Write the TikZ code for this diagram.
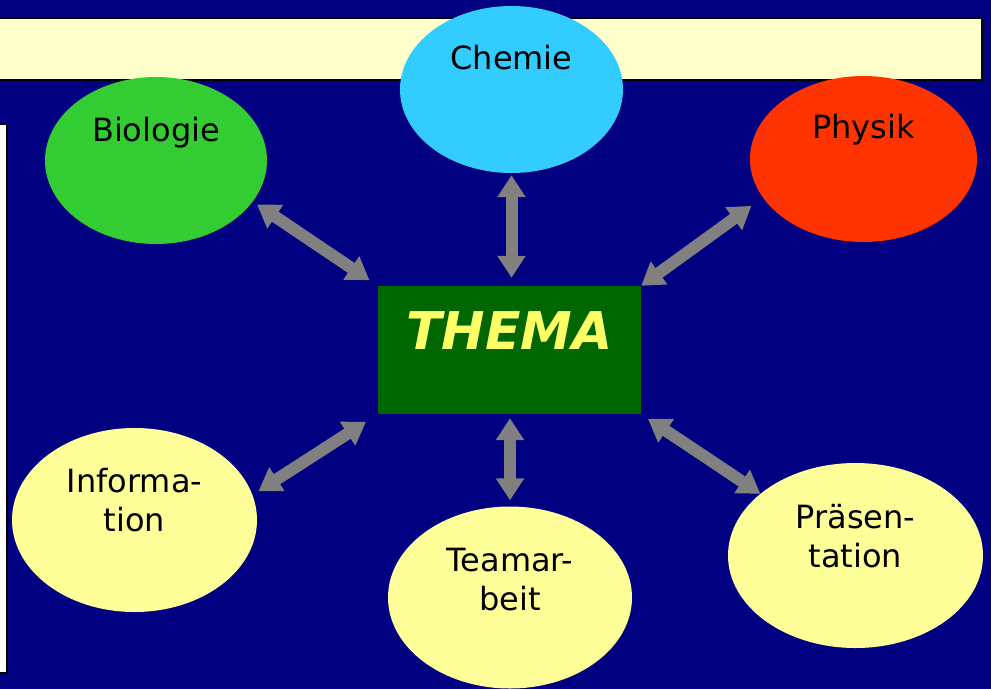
\documentclass[tikz,border=0pt]{standalone}
\usepackage{fontspec}
\setmainfont{DejaVu Sans}
\usetikzlibrary{shapes.geometric,arrows.meta}
\definecolor{navy}{HTML}{000080}
\definecolor{barfill}{HTML}{FFFFCC}
\definecolor{biogreen}{HTML}{33CC33}
\definecolor{chemblue}{HTML}{33CCFF}
\definecolor{physred}{HTML}{FF3300}
\definecolor{paleyellow}{HTML}{FFFF99}
\definecolor{themagreen}{HTML}{006600}
\definecolor{themayellow}{HTML}{FFFF66}
\definecolor{arrowgray}{HTML}{808080}
\tikzset{
  topic/.style={ellipse,inner sep=0pt},
  toptext/.style={font=\fontsize{32}{39}\selectfont,align=center,text=black},
  themetext/.style={font=\fontsize{52}{60}\selectfont\bfseries\itshape,text=themayellow},
  link/.style={line width=12pt,draw=arrowgray,{Triangle[width=27pt,length=22pt]}-{Triangle[width=27pt,length=22pt]}}
}
\begin{document}
\begin{tikzpicture}[x=1pt,y=-1pt]
\useasboundingbox (0,0) rectangle (991,689);
\clip (0,0) rectangle (991,689);
\fill[navy] (0,0) rectangle (991,689);
% slide frame
\draw[fill=barfill,line width=1.5pt] (-10,18) rectangle (982,80);
\draw[fill=white,line width=2pt] (-10,124) rectangle (7,673);

\node[topic,fill=biogreen,minimum width=222pt,minimum height=167pt,label={[toptext,yshift=28pt]center:Biologie}] (biologie) at (156,160.5) {};
\node[topic,fill=chemblue,minimum width=223pt,minimum height=167pt,label={[toptext,yshift=32pt]center:Chemie}] (chemie) at (511.5,89.5) {};
\node[topic,fill=physred,minimum width=227pt,minimum height=166pt,label={[toptext,yshift=29pt]center:Physik}] (physik) at (863.5,159) {};
\node[topic,fill=paleyellow,minimum width=245pt,minimum height=184pt,label={[toptext,yshift=19.5pt]center:Informa-\\tion}] (information) at (134.5,520) {};
\node[topic,fill=paleyellow,minimum width=244pt,minimum height=182pt,label={[toptext,yshift=18pt]center:Teamar-\\beit}] (teamarbeit) at (510,597.5) {};
\node[topic,fill=paleyellow,minimum width=255pt,minimum height=185pt,label={[toptext,yshift=19pt]center:Präsen-\\tation}] (praesentation) at (855.5,555.5) {};

\node[rectangle,inner sep=0pt,fill=themagreen,minimum width=263pt,minimum height=128pt,label={[themetext,yshift=19pt]center:THEMA}] (thema) at (509.5,350) {};

\begin{scope}[link]
  \draw[shorten <=5pt,shorten >=10pt] (biologie.-23) to (thema.north west);
  \draw[shorten <=2pt,shorten >=8pt] (chemie.south) to (chemie.south |- thema.north);
  \draw[shorten <=14pt] (physik.201) to (thema.north east);
  \draw[shorten <=7pt,shorten >=14pt] (information.12) to (thema.south west);
  \draw[shorten <=4pt,shorten >=6pt] (teamarbeit.north |- thema.south) to (teamarbeit.north);
  \draw[shorten <=8pt] (thema.south east) to (praesentation.147);
\end{scope}
\end{tikzpicture}
\end{document}
